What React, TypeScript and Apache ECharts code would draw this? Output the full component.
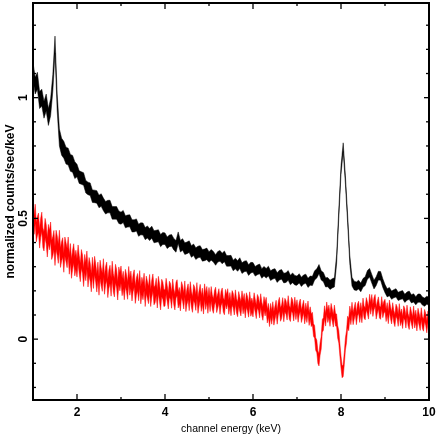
import React, { useEffect, useRef } from "react";
import * as echarts from "echarts";

// Spectral bins: energy of bin i = START + i * STEP (keV)
const ENERGY_START = 1.0;
const BLACK_STEP = 0.05;
const RED_STEP = 0.025;

// normalized counts/sec/keV, black data set (1.00 ... 10.00 keV, 0.05 keV bins)
const blackCounts = [
  1.11, 1.05, 1.07, 0.99, 1.0, 0.95, 0.98, 0.92, 0.96, 1.06, 1.22, 0.98, 0.835, 0.797, 0.784, 0.76, 0.756, 0.73, 0.726, 0.7,
  0.698, 0.671, 0.667, 0.663, 0.631, 0.624, 0.621, 0.592, 0.591, 0.589, 0.57, 0.576, 0.558, 0.544, 0.549, 0.549, 0.523, 0.523, 0.523, 0.505,
  0.501, 0.508, 0.486, 0.489, 0.49, 0.469, 0.469, 0.473, 0.451, 0.457, 0.456, 0.437, 0.444, 0.433, 0.443, 0.424, 0.426, 0.428, 0.408, 0.417,
  0.416, 0.399, 0.407, 0.409, 0.393, 0.384, 0.42, 0.385, 0.392, 0.375, 0.378, 0.383, 0.363, 0.37, 0.354, 0.361, 0.363, 0.347, 0.349, 0.353,
  0.34, 0.349, 0.341, 0.328, 0.341, 0.345, 0.334, 0.343, 0.324, 0.324, 0.325, 0.305, 0.313, 0.303, 0.315, 0.294, 0.301, 0.303, 0.286, 0.296,
  0.297, 0.281, 0.287, 0.291, 0.272, 0.281, 0.273, 0.282, 0.263, 0.269, 0.272, 0.255, 0.265, 0.268, 0.253, 0.255, 0.264, 0.245, 0.254, 0.244,
  0.242, 0.252, 0.237, 0.247, 0.25, 0.233, 0.242, 0.241, 0.264, 0.272, 0.29, 0.264, 0.257, 0.235, 0.236, 0.225, 0.231, 0.235, 0.33, 0.52,
  0.7, 0.795, 0.66, 0.5, 0.33, 0.238, 0.222, 0.219, 0.226, 0.214, 0.233, 0.24, 0.266, 0.275, 0.25, 0.226, 0.24, 0.263, 0.262, 0.232,
  0.209, 0.192, 0.197, 0.182, 0.188, 0.192, 0.177, 0.181, 0.184, 0.169, 0.178, 0.182, 0.167, 0.171, 0.159, 0.17, 0.17, 0.158, 0.153, 0.161, 0.157,
];

// normalized counts/sec/keV, red data set (1.000 ... 10.000 keV, 0.025 keV bins)
const redCounts = [
  0.52, 0.474, 0.519, 0.443, 0.468, 0.482, 0.417, 0.461, 0.486, 0.42, 0.405, 0.46, 0.435, 0.38, 0.435, 0.41, 0.445, 0.37, 0.385, 0.41,
  0.345, 0.411, 0.388, 0.354, 0.411, 0.337, 0.364, 0.38, 0.317, 0.383, 0.36, 0.336, 0.383, 0.309, 0.356, 0.292, 0.329, 0.355, 0.302, 0.328,
  0.295, 0.352, 0.309, 0.276, 0.333, 0.31, 0.256, 0.313, 0.28, 0.327, 0.254, 0.3, 0.277, 0.234, 0.301, 0.248, 0.305, 0.274, 0.233, 0.281,
  0.22, 0.289, 0.258, 0.236, 0.295, 0.224, 0.263, 0.281, 0.21, 0.249, 0.268, 0.216, 0.285, 0.234, 0.213, 0.272, 0.25, 0.2, 0.261, 0.238,
  0.267, 0.216, 0.245, 0.199, 0.253, 0.232, 0.201, 0.265, 0.218, 0.246, 0.194, 0.232, 0.251, 0.184, 0.218, 0.236, 0.195, 0.248, 0.182, 0.22,
  0.199, 0.237, 0.171, 0.225, 0.204, 0.183, 0.232, 0.171, 0.21, 0.234, 0.178, 0.187, 0.216, 0.165, 0.224, 0.193, 0.157, 0.212, 0.201, 0.171,
  0.17, 0.219, 0.189, 0.158, 0.207, 0.197, 0.161, 0.216, 0.175, 0.154, 0.203, 0.213, 0.162, 0.181, 0.15, 0.205, 0.189, 0.158, 0.208, 0.147,
  0.177, 0.196, 0.151, 0.205, 0.165, 0.144, 0.193, 0.182, 0.152, 0.201, 0.14, 0.169, 0.194, 0.148, 0.178, 0.137, 0.196, 0.156, 0.185, 0.14,
  0.184, 0.144, 0.188, 0.153, 0.137, 0.171, 0.185, 0.14, 0.159, 0.179, 0.133, 0.168, 0.182, 0.142, 0.131, 0.176, 0.155, 0.179, 0.133, 0.163,
  0.127, 0.171, 0.16, 0.13, 0.174, 0.139, 0.123, 0.167, 0.145, 0.126, 0.17, 0.135, 0.159, 0.118, 0.162, 0.147, 0.121, 0.166, 0.125, 0.14,
  0.12, 0.164, 0.138, 0.113, 0.157, 0.146, 0.116, 0.16, 0.125, 0.106, 0.148, 0.124, 0.145, 0.095, 0.12, 0.08, 0.12, 0.09, 0.127, 0.086,
  0.11, 0.133, 0.09, 0.128, 0.145, 0.102, 0.113, 0.144, 0.1, 0.141, 0.131, 0.107, 0.152, 0.111, 0.101, 0.145, 0.135, 0.103, 0.146, 0.109,
  0.137, 0.096, 0.126, 0.14, 0.095, 0.115, 0.135, 0.089, 0.123, 0.095, 0.132, 0.083, 0.108, 0.078, 0.085, 0.038, 0.03, -0.02, -0.03, -0.075,
  -0.085, -0.04, -0.015, 0.055, 0.063, 0.112, 0.08, 0.128, 0.095, 0.115, 0.079, 0.122, 0.1, 0.076, 0.115, 0.08, 0.078, 0.03, 0.01, -0.045,
  -0.095, -0.135, -0.13, -0.08, -0.02, 0.01, 0.07, 0.06, 0.112, 0.085, 0.128, 0.085, 0.107, 0.128, 0.085, 0.121, 0.132, 0.094, 0.126, 0.093,
  0.145, 0.112, 0.105, 0.147, 0.13, 0.108, 0.161, 0.128, 0.16, 0.119, 0.147, 0.16, 0.108, 0.131, 0.15, 0.113, 0.107, 0.151, 0.114, 0.132,
  0.14, 0.098, 0.126, 0.089, 0.137, 0.11, 0.088, 0.126, 0.094, 0.077, 0.12, 0.109, 0.078, 0.122, 0.081, 0.1, 0.069, 0.113, 0.102, 0.071,
  0.116, 0.08, 0.065, 0.109, 0.089, 0.068, 0.112, 0.071, 0.095, 0.059, 0.103, 0.082, 0.061, 0.105, 0.069, 0.058, 0.098, 0.082, 0.051, 0.091,
  0.075,
];

// 1-sigma error per keV band (1-2, 2-3, ... 9-10 keV)
const blackErrByKeV = [0.035, 0.026, 0.025, 0.024, 0.022, 0.02, 0.019, 0.018, 0.017, 0.017];
const redErrByKeV = [0.04, 0.038, 0.036, 0.033, 0.03, 0.028, 0.026, 0.025, 0.025, 0.025];

const xMajorTicks = [2, 4, 6, 8, 10];
const xMinorTicks = [1, 3, 5, 7, 9];
const yMajorTicks = [0, 0.5, 1];
const yMinorTicks = [-0.2, -0.1, 0.1, 0.2, 0.3, 0.4, 0.6, 0.7, 0.8, 0.9, 1.1, 1.2, 1.3];

const X_MIN = 1;
const X_MAX = 10;
const Y_MIN = -0.252;
const Y_MAX = 1.392;

const FONT = "'Liberation Sans', Arial, sans-serif";

function bandSeries(values: number[], step: number, errs: number[], color: string) {
  return {
    type: "custom",
    coordinateSystem: "cartesian2d",
    xAxisIndex: 0,
    yAxisIndex: 0,
    clip: false,
    silent: true,
    z: 2,
    data: [[X_MIN, 0]],
    renderItem: (_params: any, api: any) => {
      const upper: number[][] = [];
      const lower: number[][] = [];
      values.forEach((v, i) => {
        const e = ENERGY_START + i * step;
        const k = Math.min(errs.length - 1, Math.max(0, Math.floor(e - X_MIN + 1e-9)));
        const err = errs[k];
        upper.push(api.coord([e, v + err]));
        lower.push(api.coord([e, v - err]));
      });
      return {
        type: "polygon",
        shape: { points: upper.concat(lower.reverse()) },
        style: { fill: color, stroke: color, lineWidth: 0.5 },
      };
    },
  };
}

// Plot frame with inward ticks on all four sides, placed through the axis scales
function frameSeries() {
  return {
    type: "custom",
    coordinateSystem: "cartesian2d",
    xAxisIndex: 0,
    yAxisIndex: 0,
    clip: false,
    silent: true,
    z: 10,
    data: [[X_MIN, Y_MIN]],
    renderItem: (_params: any, api: any) => {
      const children: any[] = [];
      const tl = api.coord([X_MIN, Y_MAX]);
      const br = api.coord([X_MAX, Y_MIN]);
      const seg = (x1: number, y1: number, x2: number, y2: number, w: number) =>
        children.push({ type: "line", shape: { x1, y1, x2, y2 }, style: { stroke: "#000000", lineWidth: w } });
      const xTicks = (list: number[], len: number) =>
        list.forEach((t) => {
          const b = api.coord([t, Y_MIN]);
          const u = api.coord([t, Y_MAX]);
          seg(b[0], b[1], b[0], b[1] - len, 1.3);
          seg(u[0], u[1], u[0], u[1] + len, 1.3);
        });
      const yTicks = (list: number[], len: number) =>
        list.forEach((t) => {
          const l = api.coord([X_MIN, t]);
          const r = api.coord([X_MAX, t]);
          seg(l[0], l[1], l[0] + len, l[1], 1.3);
          seg(r[0], r[1], r[0] - len, r[1], 1.3);
        });
      xTicks(xMajorTicks, 6);
      xTicks(xMinorTicks, 3);
      yTicks(yMajorTicks, 5);
      yTicks(yMinorTicks, 3);
      seg(tl[0], tl[1], br[0], tl[1], 2);
      seg(tl[0], br[1], br[0], br[1], 2);
      seg(tl[0], tl[1], tl[0], br[1], 2);
      seg(br[0], tl[1], br[0], br[1], 2);
      return { type: "group", children };
    },
  };
}

export default function App() {
  const ref = useRef<HTMLDivElement>(null);
  useEffect(() => {
    if (!ref.current) return;
    const chart = echarts.init(ref.current, undefined, { renderer: "svg" });
    chart.setOption({
      animation: false,
      grid: {
        left: 33,
        top: 3,
        right: 7,
        bottom: 36,
        containLabel: false,
        outerBoundsMode: "none",
        show: true,
        borderColor: "#000000",
        borderWidth: 2,
      },
      xAxis: {
        type: "value",
        min: X_MIN,
        max: X_MAX,
        name: "channel energy (keV)",
        nameLocation: "middle",
        nameGap: 22,
        nameTextStyle: { fontFamily: FONT, fontSize: 10.5, color: "#000" },
        axisLine: { show: true, onZero: false, lineStyle: { color: "#000000", width: 2 } },
        axisTick: { show: false },
        axisLabel: {
          customValues: xMajorTicks,
          margin: 6,
          fontFamily: FONT,
          fontSize: 12,
          fontWeight: "bold",
          color: "#000",
        },
        splitLine: { show: false },
      },
      yAxis: {
        type: "value",
        min: Y_MIN,
        max: Y_MAX,
        name: "normalized counts/sec/keV",
        nameLocation: "middle",
        nameRotate: 90,
        nameGap: 17,
        nameMoveOverlap: false,
        nameTextStyle: { fontFamily: FONT, fontSize: 12, fontWeight: "bold", color: "#000" },
        axisLine: { show: true, onZero: false, lineStyle: { color: "#000000", width: 2 } },
        axisTick: { show: false },
        axisLabel: {
          customValues: yMajorTicks,
          rotate: 90,
          margin: 4,
          fontFamily: FONT,
          fontSize: 12,
          fontWeight: "bold",
          color: "#000",
          formatter: (v: number) => String(v),
        },
        splitLine: { show: false },
      },
      series: [
        bandSeries(blackCounts, BLACK_STEP, blackErrByKeV, "#000000"),
        bandSeries(redCounts, RED_STEP, redErrByKeV, "#ff0000"),
        frameSeries(),
      ],
    });
    return () => chart.dispose();
  }, []);
  return <div ref={ref} style={{ position: "fixed", left: 0, top: 0, width: 436, height: 436 }} />;
}
